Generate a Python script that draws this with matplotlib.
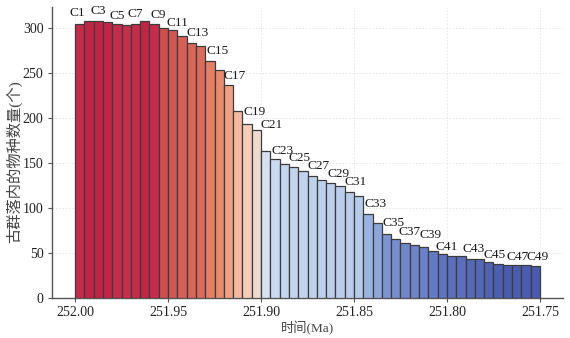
import numpy as np
import matplotlib
matplotlib.use("Agg")
import matplotlib.pyplot as plt
from matplotlib.colors import LinearSegmentedColormap, Normalize

# community labels and species counts
labels = ["C%d" % i for i in range(1, 51)]
species = [305, 308, 308, 307, 305, 304, 305, 308, 305, 300,
           298, 291, 284, 280, 263, 254, 237, 208, 193, 187,
           164, 155, 149, 146, 141, 136, 131, 128, 125, 118,
           114, 94, 84, 71, 66, 61, 59, 57, 52, 49,
           47, 47, 44, 43, 40, 38, 37, 37, 37, 36]
# left edge of each bar (Ma), bars are 0.005 Ma wide
ages = [252.000, 251.995, 251.990, 251.985, 251.980, 251.975, 251.970, 251.965, 251.960, 251.955,
        251.950, 251.945, 251.940, 251.935, 251.930, 251.925, 251.920, 251.915, 251.910, 251.905,
        251.900, 251.895, 251.890, 251.885, 251.880, 251.875, 251.870, 251.865, 251.860, 251.855,
        251.850, 251.845, 251.840, 251.835, 251.830, 251.825, 251.820, 251.815, 251.810, 251.805,
        251.800, 251.795, 251.790, 251.785, 251.780, 251.775, 251.770, 251.765, 251.760, 251.755]
bar_width = 0.005
xticks = [252.00, 251.95, 251.90, 251.85, 251.80, 251.75]
yticks = [0, 50, 100, 150, 200, 250, 300]

# label nudges (pixels) to mimic the repelled labels of the original
label_dx = {1: -2, 9: 4, 11: 5, 13: 6, 15: 8, 17: 6, 19: 8, 21: 6, 23: -2, 25: -3, 27: -3,
            29: -1, 31: -3, 33: -2, 35: -2, 37: -5, 39: -2, 41: -5, 43: 3, 45: 6, 47: 10, 49: 12}
label_dy = {1: 11, 3: 10, 5: 8, 7: 10, 9: 9, 11: 7, 13: 10, 15: 10, 17: 9, 19: 12, 21: 26,
            23: 13, 25: 13, 27: 14, 29: 12, 31: 14, 33: 19, 35: 16, 37: 13, 39: 16, 41: 9,
            43: 10, 45: 7, 47: 8, 49: 8}

# colour stops by value (blue low -> red high)
vmin, vmax = 36, 308
stops = [(36, "#4a5cb0"), (44, "#566aba"), (50, "#6176c1"), (60, "#6f86cc"),
         (71, "#7d95d3"), (84, "#8ca6dc"), (94, "#9bb4e3"), (114, "#b7cbeb"),
         (150, "#c4d6ef"), (164, "#d7e1f1"), (187, "#eddcd1"), (193, "#f4cbb7"),
         (208, "#f5b8a0"), (237, "#f2a184"), (254, "#ea8b6d"), (263, "#e47e65"),
         (280, "#dc6b5b"), (291, "#d86056"), (300, "#d35550"), (303, "#cc3450"),
         (308, "#c22446")]
cmap = LinearSegmentedColormap.from_list(
    "custom", [((v - vmin) / (vmax - vmin), c) for v, c in stops])
norm = Normalize(vmin=vmin, vmax=vmax)

serif = ["Liberation Serif", "Noto Sans CJK SC"]

fig = plt.figure(figsize=(5.7, 3.38), dpi=100)
ax = fig.add_axes([0.091, 0.118, 0.897, 0.861])

centers = np.array(ages) - bar_width / 2
colors = [cmap(norm(v)) for v in species]
ax.bar(centers, species, width=bar_width, color=colors, edgecolor="#3c3c3c",
       linewidth=0.9, zorder=3)

for i, (x, y, lab) in enumerate(zip(centers, species, labels)):
    n = i + 1
    if n % 2 == 0:
        continue
    ax.annotate(lab, (x, y), xytext=(label_dx.get(n, 0), label_dy.get(n, 10)),
                textcoords="offset pixels", ha="center", va="center",
                fontsize=9.6, family=serif, color="#1a1a1a", zorder=4)

ax.set_xlim(252.0125, 251.7375)
ax.set_ylim(0, max(species) * 1.05)
ax.set_xticks(xticks)
ax.set_xticklabels(["%.2f" % t for t in xticks])
ax.set_yticks(yticks)

ax.grid(True, color="#e4e4e4", linestyle=(0, (2, 2)), linewidth=0.6, zorder=0)
for s in ["top", "right"]:
    ax.spines[s].set_visible(False)
for s in ["left", "bottom"]:
    ax.spines[s].set_color("#555555")
    ax.spines[s].set_linewidth(1.0)
ax.tick_params(axis="both", length=3, width=0.8, color="#555555",
               labelsize=10, labelcolor="#222222", pad=3)
for t in ax.get_xticklabels() + ax.get_yticklabels():
    t.set_family(serif)

ax.set_xlabel("时间(Ma)", family=serif, fontsize=9.5, color="#444444", weight="light")
ax.xaxis.set_label_coords(0.5, -0.078)
ax.set_ylabel("古群落内的物种数量(个)", family=serif, fontsize=11, color="#444444",
              weight="light")
ax.yaxis.set_label_coords(-0.058, 0.47)

fig.savefig("out.png", dpi=100)
